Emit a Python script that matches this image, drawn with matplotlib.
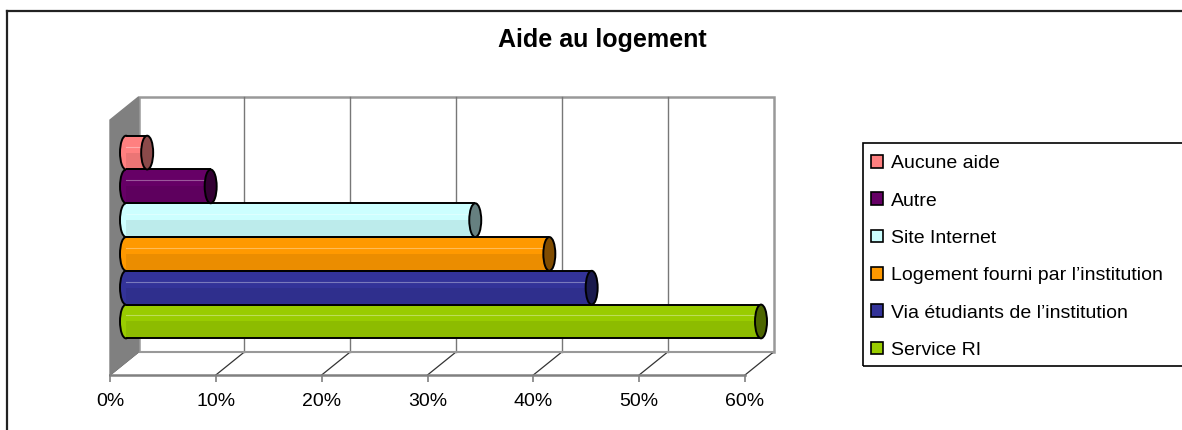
import matplotlib
matplotlib.use("agg")
import matplotlib.pyplot as plt
import matplotlib.transforms as mtransforms
from matplotlib.patches import Ellipse, Polygon, Rectangle, Patch
from matplotlib.lines import Line2D
import numpy as np

plt.rcParams["font.family"] = ["Liberation Sans", "DejaVu Sans"]

# données (bas -> haut)
categories = ["Service RI", "Via étudiants de l’institution",
              "Logement fourni par l’institution", "Site Internet",
              "Autre", "Aucune aide"]
values = [60, 44, 40, 33, 8, 2]
bar_colors = ["#99CC00", "#333399", "#FF9900", "#CCFFFF", "#660066", "#FF8080"]
cap_colors = ["#4D6600", "#1A1A4D", "#804C00", "#668080", "#330033", "#8B4A4A"]
ticks = [0, 10, 20, 30, 40, 50, 60]
tick_labels = [f"{t}%" for t in ticks]

W, H = 1182, 430
fig = plt.figure(figsize=(W / 100, H / 100), dpi=100)

# plan avant de la boite 3D (en pixels)
x0, x1 = 110, 745
y_top, y_floor = 120, 375
ax = fig.add_axes([x0 / W, 1 - y_floor / H, (x1 - x0) / W, (y_floor - y_top) / H])
ax.set_xlim(0, 60)
ylo, yhi = -1.2, 6.35
ax.set_ylim(ylo, yhi)
for s in ax.spines.values():
    s.set_visible(False)
ax.set_yticks([])
ax.set_xticks(ticks)
ax.set_xticklabels(tick_labels, fontsize=14)
ax.tick_params(axis="x", length=5, color="#808080", width=1.2, pad=8)

sx = (x1 - x0) / 60
sy = (y_floor - y_top) / (yhi - ylo)
bx, by = 28.5 / sx, 23 / sy   # profondeur de la boite

# mur du fond
ax.add_patch(Rectangle((bx, ylo + by), 60, yhi - ylo, fc="white", ec="#999999",
                       lw=1.8, zorder=1, clip_on=False))
for t in ticks[1:-1]:
    ax.plot([t + bx] * 2, [ylo + by, yhi + by], color="#777777", lw=1, zorder=1.5, clip_on=False)
# sol
ax.add_patch(Polygon([(0, ylo), (60, ylo), (60 + bx, ylo + by), (bx, ylo + by)],
                     fc="white", ec="none", zorder=1.2, clip_on=False))
for t in ticks:
    ax.plot([t, t + bx], [ylo, ylo + by], color="#333333", lw=0.9, zorder=1.6, clip_on=False)
ax.plot([bx, 60 + bx], [ylo + by, ylo + by], color="#999999", lw=1.5, zorder=1.6, clip_on=False)
ax.plot([0, 60], [ylo, ylo], color="#808080", lw=1.8, zorder=1.7, clip_on=False)
# mur de gauche
ax.add_patch(Polygon([(0, ylo), (0, yhi), (bx, yhi + by), (bx, ylo + by)],
                     fc="#808080", ec="#808080", lw=1, zorder=2, clip_on=False))

# barres cylindriques
bar_tr = ax.transData + mtransforms.ScaledTranslation(16 / 100, 13 / 100, fig.dpi_scale_trans)
ypos = np.arange(len(categories))
cap_w = 12 / sx
for i, (v, c) in enumerate(zip(values, bar_colors)):
    e = Ellipse((0, i), cap_w, 1.0, fc=c, ec="black", lw=1.4, zorder=3, clip_on=False)
    e.set_transform(bar_tr)
    ax.add_patch(e)
bars = ax.barh(ypos, values, height=1.0, color=bar_colors, edgecolor="none", zorder=4)
shade = ax.barh(ypos - 0.25, values, height=0.5, color="black", alpha=0.08, edgecolor="none", zorder=5)
for b in list(bars) + list(shade):
    b.set_transform(bar_tr)
    b.set_clip_on(False)
for i, v in enumerate(values):
    for yy in (i - 0.5, i + 0.5):
        ln, = ax.plot([0, v], [yy, yy], color="black", lw=1.4, zorder=6,
                      solid_capstyle="butt", clip_on=False)
        ln.set_transform(bar_tr)
    hl, = ax.plot([0, v], [i + 0.18, i + 0.18], color="white", lw=0.8, alpha=0.35,
                  zorder=5.5, clip_on=False)
    hl.set_transform(bar_tr)
for i, (v, cc) in enumerate(zip(values, cap_colors)):
    e = Ellipse((v, i), cap_w, 1.0, fc=cc, ec="black", lw=1.4, zorder=7, clip_on=False)
    e.set_transform(bar_tr)
    ax.add_patch(e)

# titre
fig.text(602 / W, 1 - 47 / H, "Aide au logement", ha="center", va="baseline",
         fontsize=18, fontweight="bold")

# cadre du graphique
fig.add_artist(Line2D([7 / W, 7 / W], [0, 1 - 11 / H], transform=fig.transFigure, color="#222222", lw=1.6))
fig.add_artist(Line2D([7 / W, 1], [1 - 11 / H, 1 - 11 / H], transform=fig.transFigure, color="#222222", lw=1.6))

# légende
fig.add_artist(Rectangle((863 / W, 1 - 366 / H), 1.0, (366 - 143) / H, transform=fig.transFigure,
                         fill=False, ec="black", lw=1.2))
handles = [Patch(facecolor=c, edgecolor="black", lw=1.2) for c in bar_colors[::-1]]
fig.legend(handles, categories[::-1], loc="upper left", bbox_to_anchor=(871 / W, 1 - 155 / H),
           frameon=False, fontsize=14, handlelength=0.62, handleheight=0.62,
           handletextpad=0.4, labelspacing=1.04, borderpad=0, borderaxespad=0)

fig.savefig("out.png", dpi=100)
